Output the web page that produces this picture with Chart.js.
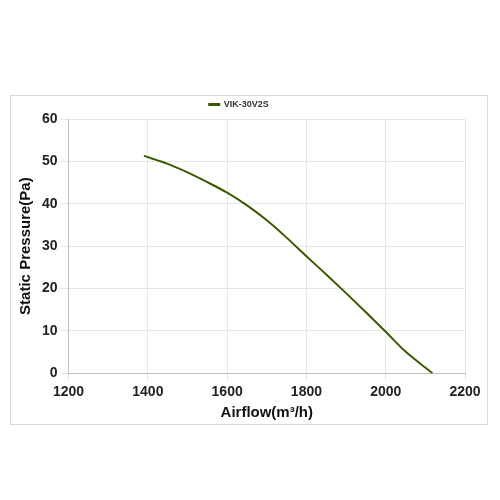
<!DOCTYPE html>
<html>
<head>
<script src="https://cdn.jsdelivr.net/npm/chart.js@4"></script>
<style>
body { margin: 0; background: #fff; }
#box { position: absolute; left: 10px; top: 95px; width: 478px; height: 330px; border: 1px solid #d9d9d9; box-sizing: border-box; }
</style>
</head>
<body>
<div id="box"><canvas id="c"></canvas></div>
<script>
const airflow = [1390, 1450, 1500, 1550, 1600, 1650, 1700, 1750, 1800, 1850, 1900, 1950, 2000, 2050, 2118];
const pressure = [51.3, 49.4, 47.4, 45.1, 42.6, 39.6, 36.1, 32.0, 27.6, 23.3, 18.9, 14.4, 9.8, 5.1, 0];
const seriesName = 'VIK-30V2S';

new Chart(document.getElementById('c'), {
    type: 'scatter',
    data: {
        datasets: [{
            label: seriesName,
            data: airflow.map((x, i) => ({ x: x, y: pressure[i] })),
            showLine: true,
            cubicInterpolationMode: 'monotone',
            borderColor: '#3a5a00',
            backgroundColor: '#3a5a00',
            borderWidth: 2,
            pointRadius: 0
        }]
    },
    options: {
        responsive: true,
        maintainAspectRatio: false,
        animation: false,
        layout: { padding: { right: 22, left: 2, top: 0, bottom: 2 } },
        plugins: {
            legend: {
                labels: { boxWidth: 10, boxHeight: 1, padding: 4, font: { size: 9, weight: 'bold', family: 'Liberation Sans' }, color: '#333' }
            },
            tooltip: { enabled: false }
        },
        scales: {
            x: {
                min: 1200, max: 2200,
                ticks: { stepSize: 200, callback: v => String(v), font: { size: 14, weight: 'bold', family: 'Liberation Sans' }, color: '#222' },
                grid: { color: '#e6e6e6' },
                border: { color: '#bfbfbf' },
                title: { display: true, text: 'Airflow(m³/h)', font: { size: 15, weight: 'bold', family: 'Liberation Sans' }, color: '#111', padding: 0 }
            },
            y: {
                min: 0, max: 60,
                ticks: { stepSize: 10, font: { size: 14, weight: 'bold', family: 'Liberation Sans' }, color: '#222' },
                grid: { color: '#e6e6e6' },
                border: { color: '#bfbfbf' },
                title: { display: true, text: 'Static Pressure(Pa)', font: { size: 15, weight: 'bold', family: 'Liberation Sans' }, color: '#111' }
            }
        }
    }
});
</script>
</body>
</html>
